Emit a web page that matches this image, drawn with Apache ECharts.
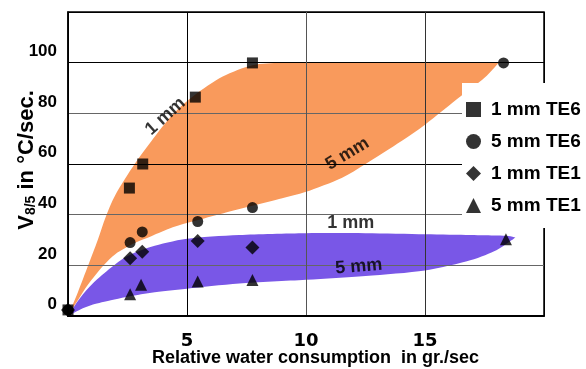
<!DOCTYPE html>
<html><head><meta charset="utf-8">
<script src="https://cdn.jsdelivr.net/npm/echarts@6/dist/echarts.min.js"></script>
<style>html,body{margin:0;padding:0;background:#fff}#c{width:586px;height:369px}</style>
</head><body><div id="c"></div>
<script>
// ---- data ----
const seriesNames = ['1 mm TE6', '5 mm TE6', '1 mm TE1', '5 mm TE1'];
const seriesSymbols = ['rect', 'circle', 'diamond', 'triangle'];
const te6_1mm = [[0, 2.4], [2.58, 50.5], [3.14, 60], [5.35, 86.4], [7.75, 99.9]];
const te6_5mm = [[0, 2.4], [2.61, 29], [3.12, 33.2], [5.45, 37.3], [7.75, 42.8], [18.3, 99.9]];
const te1_1mm = [[0, 2.4], [2.61, 22.8], [3.12, 25.4], [5.45, 29.6], [7.75, 27]];
const te1_5mm = [[2.61, 8.6], [3.07, 12.3], [5.45, 13.6], [7.75, 14.2], [18.4, 30.3]];

const orangeUpX   = [0, 0.42, 0.84, 1.25, 1.58, 2.0, 2.8, 3.5, 4.4, 5.3, 6.5, 7.75, 9, 11, 13, 15, 17, 18.1];
const orangeUpper = [0, 9.5, 19.8, 30, 39, 48, 60, 69, 79.5, 87, 94.5, 99, 100, 100, 100, 100, 100, 100];
const orangeLoX   = [0, 0.4, 0.85, 1.5, 2, 2.8, 3.5, 4.4, 5.3, 6.5, 7.75, 9, 10, 11.5, 12.5, 14, 15, 16.5, 17.5, 18.1];
const orangeLower = [0, 6, 12.5, 20, 24.5, 28.8, 31.5, 35, 37.5, 40.5, 43.5, 46.5, 49, 54.5, 60, 69, 75.5, 86.7, 94, 100];

const purpleX     = [0, 0.5, 1.05, 1.8, 2.45, 3.5, 5, 7.2, 10, 12.5, 15, 16.9, 18, 18.5, 18.8];
const purpleUpper = [0, 7, 12.9, 19, 23.4, 27.3, 30.5, 32, 32.7, 32.7, 32.3, 32, 31.8, 31.6, 31];
const purpleLower = [0, 2.5, 4.5, 6.2, 7.5, 9.2, 10.8, 12.8, 14.3, 15.8, 18, 22, 26, 29, 31];

const annoText = ['1 mm', '5 mm', '1 mm', '5 mm'];
const annoX = [4.09, 11.74, 11.88, 12.22];
const annoY = [78.8, 64, 36.6, 19.5];
const annoRotate = [42, 31, 0, 5];

const xTickLabels = [5, 10, 15];
const yTickLabels = [0, 20, 40, 60, 80, 100];

const ORANGE = '#F99A5C';
const PURPLE = '#7957E7';
const SANS = 'Liberation Sans, Arial, sans-serif';

// ---- build ----
// Catmull-Rom smoothing of a pixel polyline into bezier path commands
function smoothPath(pts, start) {
  let d = (start ? 'M' : 'L') + pts[0][0] + ',' + pts[0][1];
  const t = 0.85;
  for (let i = 0; i < pts.length - 1; i++) {
    const p0 = pts[Math.max(i - 1, 0)], p1 = pts[i], p2 = pts[i + 1], p3 = pts[Math.min(i + 2, pts.length - 1)];
    const c1 = [p1[0] + (p2[0] - p0[0]) / 6 * t, p1[1] + (p2[1] - p0[1]) / 6 * t];
    const c2 = [p2[0] - (p3[0] - p1[0]) / 6 * t, p2[1] - (p3[1] - p1[1]) / 6 * t];
    d += 'C' + c1[0] + ',' + c1[1] + ' ' + c2[0] + ',' + c2[1] + ' ' + p2[0] + ',' + p2[1];
  }
  return d;
}
function band(upX, hi, loX, lo, color) {
  return {
    type: 'custom', z: 1, silent: true, clip: false,
    data: [[upX[0], hi[0]]],
    renderItem: (params, api) => {
      const up = upX.map((x, i) => api.coord([x, hi[i]]));
      const dn = loX.map((x, i) => api.coord([x, lo[i]])).reverse();
      const pathData = smoothPath(up, true) + smoothPath(dn, false) + 'Z';
      return { type: 'path', shape: { pathData: pathData }, style: { fill: color, stroke: null } };
    }
  };
}
const pointData = [te6_1mm, te6_5mm, te1_1mm, te1_5mm];
const symSizes = [11, 11, 14, 12];
const scatterSeries = seriesNames.map((n, i) => ({
  type: 'scatter', name: n, data: pointData[i], symbol: seriesSymbols[i], symbolSize: symSizes[i],
  itemStyle: { color: '#000' }, z: 5, clip: false
}));

const annoSeries = {
  type: 'scatter', symbolSize: 0, z: 6, silent: true, clip: false,
  data: annoText.map((t, i) => ({
    value: [annoX[i], annoY[i]], name: t,
    label: { show: true, position: 'inside', formatter: t, rotate: annoRotate[i],
      fontFamily: SANS, fontWeight: 'bold', fontSize: 18, color: '#000' }
  }))
};

const chart = echarts.init(document.getElementById('c'));
chart.setOption({
  animation: false,
  backgroundColor: '#fff',
  grid: { left: 68, right: 42, top: 12, bottom: 53, show: true, borderColor: '#000', borderWidth: 1.5,
    containLabel: false, outerBoundsMode: 'none' },
  legend: {
    data: seriesNames.map((n, i) => ({ name: n, icon: seriesSymbols[i] })),
    orient: 'vertical', left: 462, top: 83, z: 10,
    backgroundColor: '#fff', padding: [17, 6, 13, 4],
    itemWidth: 15, itemHeight: 15, itemGap: 13,
    textStyle: { fontFamily: SANS, fontWeight: 'bold', fontSize: 19, color: '#000', padding: [0, 0, 0, 5] }
  },
  xAxis: {
    type: 'value', min: 0, max: 20, interval: 5, z: 3,
    axisLine: { lineStyle: { color: '#000', width: 2 } },
    axisTick: { show: false },
    splitLine: { show: true, lineStyle: { color: ['#000', '#000', '#555', '#333', '#000'], width: 1 } },
    axisLabel: {
      margin: 16, color: '#000', fontFamily: 'DejaVu Sans, Verdana, sans-serif', fontWeight: 'bold', fontSize: 18,
      formatter: v => xTickLabels.includes(v) ? String(v) : ''
    },
    name: 'Relative water consumption  in gr./sec', nameLocation: 'middle', nameGap: 33, nameMoveOverlap: false,
    nameTextStyle: { color: '#000', fontFamily: SANS, fontWeight: 'bold', fontSize: 18, padding: [0, 0, 0, 19] }
  },
  yAxis: {
    type: 'value', min: 0, max: 120, interval: 20, z: 3,
    axisLine: { show: true, lineStyle: { color: '#000', width: 1.5 } },
    axisTick: { show: false },
    splitLine: { show: true, lineStyle: { color: ['#000', '#666', '#666', '#000', '#666', '#000', '#000'], width: 1 } },
    axisLabel: {
      margin: 11, color: '#000', fontFamily: SANS, fontWeight: 'bold', fontSize: 17,
      verticalAlign: 'bottom', lineHeight: 17, padding: [0, 0, 3, 0],
      formatter: v => yTickLabels.includes(v) ? String(v) : ''
    },
    name: 'V{sub|8/5} in °C/sec.', nameLocation: 'middle', nameRotate: 90, nameGap: 30, nameMoveOverlap: false,
    nameTextStyle: { color: '#000', fontFamily: SANS, fontWeight: 'bold', fontSize: 22, padding: [0, 0, 0, 8],
      rich: { sub: { fontFamily: SANS, fontWeight: 'bold', fontSize: 14, color: '#000',
        verticalAlign: 'bottom', padding: [8, 0, 0, 0] } } }
  },
  series: [
    band(orangeUpX, orangeUpper, orangeLoX, orangeLower, ORANGE),
    band(purpleX, purpleUpper, purpleX, purpleLower, PURPLE),
    ...scatterSeries,
    annoSeries
  ]
});
</script></body></html>
